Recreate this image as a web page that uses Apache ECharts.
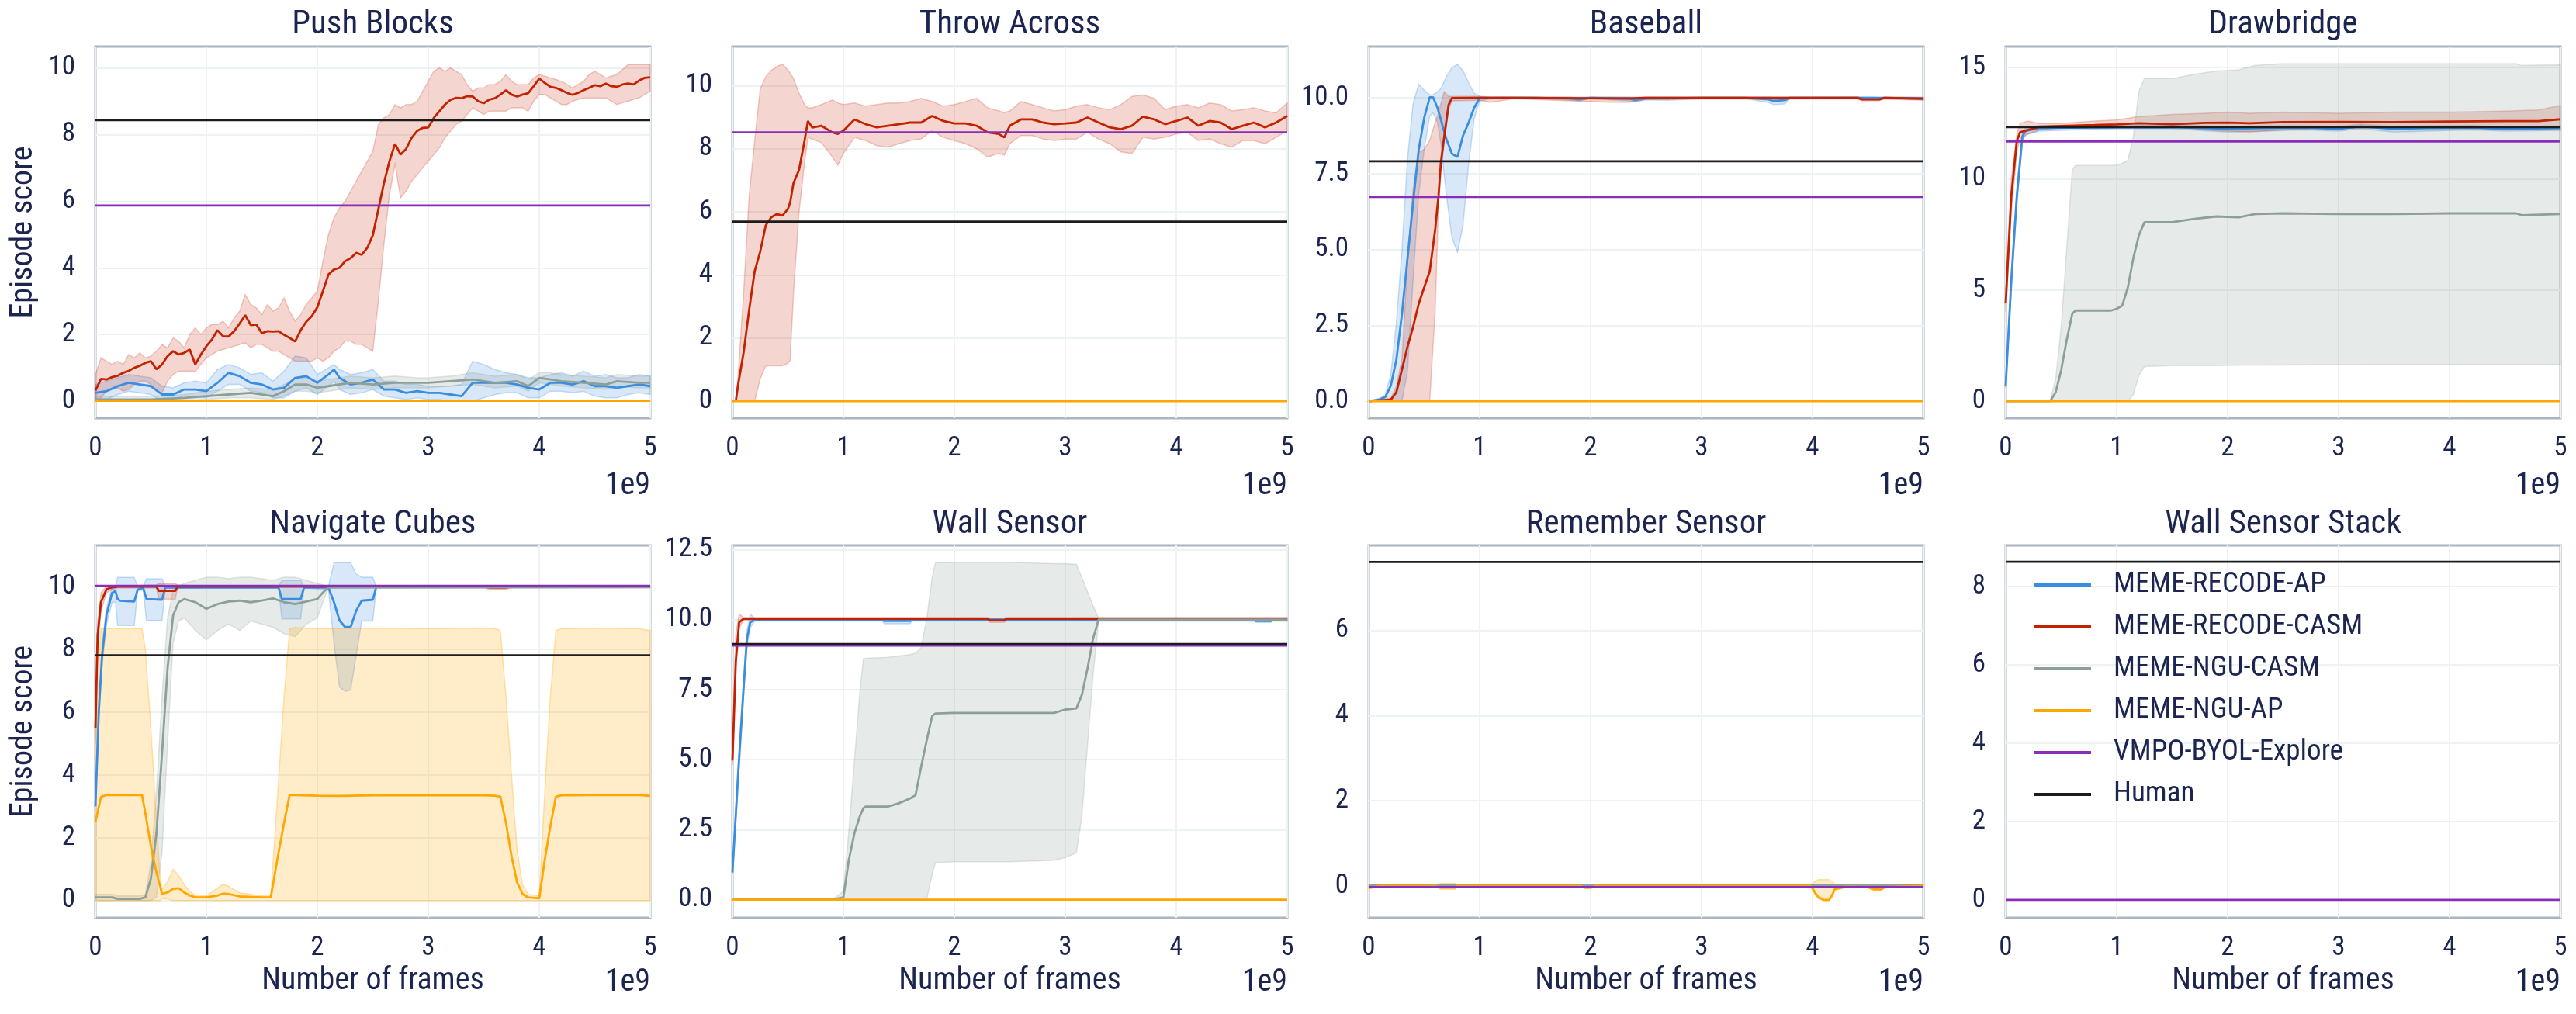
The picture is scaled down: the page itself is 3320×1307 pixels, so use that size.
<!DOCTYPE html>
<html><head><meta charset="utf-8">
<script src="https://cdn.jsdelivr.net/npm/echarts@6/dist/echarts.min.js"></script>
<style>html,body{margin:0;padding:0;background:#fff}#c{width:3320px;height:1307px}</style>
</head><body><div id="c"></div>
<script>
// ---------------- DATA ----------------
const PANEL_TITLES = ['Push Blocks','Throw Across','Baseball','Drawbridge','Navigate Cubes','Wall Sensor','Remember Sensor','Wall Sensor Stack'];
const METHOD_NAMES = ['MEME-RECODE-AP','MEME-RECODE-CASM','MEME-NGU-CASM','MEME-NGU-AP','VMPO-BYOL-Explore','Human'];
const X_TICKS = [0,1,2,3,4,5];
const Y_TICKS = [[0,2,4,6,8,10],[0,2,4,6,8,10],[0,2.5,5,7.5,10],[0,5,10,15],[0,2,4,6,8,10],[0,2.5,5,7.5,10,12.5],[0,2,4,6],[0,2,4,6,8]];
const Y_RANGES = [[-0.51,10.64],[-0.54,11.24],[-0.56,11.69],[-0.76,15.95],[-0.55,11.31],[-0.65,12.65],[-0.75,8.0],[-0.46,9.05]];
const Y_DECIMALS = [0,0,1,0,0,1,0,0];
const HUMAN = [8.43,5.69,7.91,12.33,7.81,9.13,7.61,8.63];
const VMPO = [5.87,8.52,6.73,11.68,10.02,9.07,-0.03,0.0];

// rows: [frames (1e9), mean, lower, upper]
const pushRed = [[0,0.32,0.0,0.8],[0.05,0.67,0.1,1.3],[0.1,0.65,0.3,1.2],[0.15,0.72,0.35,1.1],[0.2,0.76,0.4,1.2],[0.25,0.85,0.3,1.1],[0.3,0.91,0.35,1.4],[0.35,1.0,0.5,1.3],[0.4,1.06,0.6,1.45],[0.45,1.15,0.6,1.3],[0.5,1.2,0.5,1.35],[0.55,0.96,0.3,1.5],[0.6,1.1,0.25,1.7],[0.65,1.35,0.6,1.6],[0.7,1.5,0.8,1.9],[0.75,1.4,0.9,1.8],[0.8,1.45,0.9,1.6],[0.85,1.55,0.9,2.0],[0.9,1.1,0.9,2.2],[0.95,1.4,1.1,2.0],[1.0,1.65,1.3,2.2],[1.05,1.85,1.4,2.3],[1.1,2.13,1.5,2.3],[1.15,1.95,1.55,2.4],[1.2,1.94,1.6,2.2],[1.25,2.1,1.65,2.5],[1.3,2.33,1.7,2.7],[1.35,2.58,1.75,3.2],[1.4,2.28,1.6,2.9],[1.45,2.3,1.7,2.8],[1.5,2.04,1.7,2.6],[1.55,2.1,1.6,2.9],[1.6,2.09,1.5,2.7],[1.65,2.1,1.5,2.8],[1.7,1.99,1.4,3.1],[1.75,1.9,1.3,2.7],[1.8,1.79,1.2,2.4],[1.85,2.13,1.2,2.6],[1.9,2.38,1.2,2.9],[1.95,2.55,1.2,3.1],[2.0,2.82,1.3,3.3],[2.05,3.3,1.2,4.2],[2.1,3.8,1.3,5.0],[2.15,3.95,1.5,5.5],[2.2,4.0,1.6,5.8],[2.25,4.2,1.8,6.0],[2.3,4.29,1.8,6.3],[2.35,4.45,1.7,6.6],[2.4,4.39,1.7,6.9],[2.45,4.6,1.6,7.2],[2.5,4.98,1.5,7.5],[2.55,5.76,3.0,8.3],[2.6,6.54,4.7,8.5],[2.65,7.2,6.2,8.6],[2.7,7.72,7.1,8.9],[2.75,7.4,6.1,8.8],[2.8,7.57,6.3,8.9],[2.85,7.9,6.6,8.9],[2.9,8.11,6.8,9.0],[2.95,8.2,7.0,9.3],[3.0,8.21,7.2,9.6],[3.05,8.5,7.4,9.9],[3.1,8.7,7.6,10.0],[3.15,8.9,7.9,9.9],[3.2,9.04,8.1,10.0],[3.25,9.1,8.3,9.9],[3.3,9.09,8.4,9.8],[3.35,9.15,8.6,9.5],[3.4,9.14,8.8,9.3],[3.45,9.0,8.7,9.4],[3.5,8.94,8.6,9.4],[3.55,9.05,8.7,9.5],[3.6,9.09,8.7,9.5],[3.65,9.2,8.7,9.6],[3.7,9.33,8.7,9.8],[3.75,9.2,8.8,9.6],[3.8,9.14,8.8,9.5],[3.85,9.2,8.8,9.5],[3.9,9.24,8.7,9.5],[3.95,9.45,9.0,9.7],[4.0,9.68,9.2,9.8],[4.05,9.55,9.2,9.75],[4.1,9.43,9.1,9.7],[4.15,9.4,9.0,9.65],[4.2,9.33,8.9,9.6],[4.25,9.25,8.9,9.5],[4.3,9.19,9.0,9.4],[4.35,9.25,9.05,9.5],[4.4,9.33,9.1,9.6],[4.45,9.4,9.1,9.8],[4.5,9.48,9.1,9.9],[4.55,9.45,9.1,9.8],[4.6,9.53,9.1,9.7],[4.65,9.45,9.0,9.75],[4.7,9.43,8.9,9.8],[4.75,9.5,8.95,9.95],[4.8,9.53,9.0,10.1],[4.85,9.5,9.05,10.1],[4.9,9.62,9.1,10.1],[4.95,9.7,9.2,10.1],[5.0,9.72,9.3,10.1]];
const pushBlue = [[0,0.25,0.05,0.5],[0.1,0.3,0.05,0.6],[0.2,0.45,0.2,0.7],[0.3,0.55,0.3,0.8],[0.4,0.5,0.25,0.75],[0.5,0.45,0.2,0.7],[0.6,0.2,0.0,0.45],[0.7,0.2,0.05,0.4],[0.8,0.35,0.15,0.55],[0.9,0.35,0.15,0.6],[1.0,0.3,0.1,0.55],[1.1,0.55,0.3,0.95],[1.2,0.85,0.5,1.1],[1.3,0.75,0.5,1.0],[1.4,0.55,0.3,0.8],[1.5,0.5,0.25,0.85],[1.6,0.35,0.1,0.6],[1.7,0.4,0.1,0.9],[1.8,0.7,0.3,1.35],[1.9,0.75,0.4,1.3],[2.0,0.55,0.2,0.8],[2.1,0.8,0.45,1.0],[2.15,0.95,0.6,1.1],[2.2,0.7,0.35,0.95],[2.3,0.5,0.2,0.8],[2.4,0.55,0.25,0.85],[2.5,0.65,0.35,0.95],[2.6,0.35,0.15,0.6],[2.7,0.35,0.1,0.6],[2.8,0.25,0.05,0.5],[2.9,0.3,0.1,0.5],[3.0,0.25,0.05,0.45],[3.1,0.25,0.05,0.45],[3.2,0.2,0.0,0.45],[3.3,0.15,0.0,0.5],[3.4,0.55,0.0,1.2],[3.5,0.55,0.1,1.1],[3.6,0.55,0.2,0.95],[3.7,0.55,0.25,0.85],[3.8,0.5,0.25,0.8],[3.9,0.4,0.1,0.7],[4.0,0.35,0.1,0.7],[4.1,0.55,0.3,0.8],[4.2,0.55,0.3,0.85],[4.3,0.5,0.25,0.75],[4.4,0.6,0.3,0.9],[4.5,0.45,0.15,0.75],[4.6,0.45,0.1,0.8],[4.7,0.4,0.1,0.7],[4.8,0.45,0.2,0.7],[4.9,0.5,0.25,0.8],[5.0,0.45,0.2,0.75]];
const pushGray = [[0,0.05,0.0,0.15],[0.5,0.05,0.0,0.15],[0.8,0.1,0.0,0.2],[1.0,0.15,0.05,0.3],[1.2,0.2,0.1,0.35],[1.4,0.25,0.1,0.4],[1.6,0.15,0.05,0.35],[1.7,0.3,0.15,0.5],[1.8,0.5,0.3,0.7],[1.9,0.5,0.3,0.7],[2.0,0.4,0.25,0.6],[2.1,0.45,0.3,0.65],[2.3,0.55,0.4,0.75],[2.5,0.5,0.35,0.7],[2.7,0.55,0.4,0.75],[2.9,0.55,0.4,0.7],[3.0,0.55,0.4,0.7],[3.2,0.6,0.45,0.75],[3.4,0.65,0.5,0.85],[3.6,0.55,0.4,0.75],[3.8,0.6,0.45,0.8],[3.9,0.45,0.3,0.65],[4.0,0.7,0.55,0.85],[4.1,0.65,0.5,0.85],[4.2,0.6,0.45,0.8],[4.4,0.55,0.4,0.75],[4.6,0.5,0.35,0.7],[4.7,0.6,0.45,0.8],[4.9,0.55,0.4,0.75],[5.0,0.55,0.4,0.75]];
const pushOrange = [[0,0.01,0.0,0.03],[5,0.01,0.0,0.03]];

const throwRed = [[0.03,0,0,0],[0.05,0.5,0,0.8],[0.1,1.53,0,3.4],[0.15,2.88,0,6.5],[0.2,4.12,0,8.26],[0.25,4.74,0.7,9.9],[0.3,5.57,1.12,10.28],[0.35,5.83,1.12,10.49],[0.4,5.93,1.12,10.6],[0.45,5.88,1.12,10.69],[0.5,6.09,1.2,10.49],[0.52,6.3,1.3,10.4],[0.55,6.91,3.4,10.23],[0.6,7.33,5.98,9.76],[0.65,8.26,7.54,9.4],[0.68,8.88,8.36,9.3],[0.72,8.67,8.3,9.3],[0.8,8.73,8.2,9.4],[0.9,8.52,7.74,9.55],[0.95,8.47,7.48,9.45],[1.0,8.57,7.85,9.4],[1.1,8.93,8.36,9.45],[1.2,8.78,8.26,9.35],[1.3,8.68,8.1,9.4],[1.4,8.73,8.05,9.45],[1.5,8.78,8.16,9.45],[1.6,8.83,8.26,9.5],[1.7,8.83,8.31,9.6],[1.8,9.04,8.57,9.5],[1.9,8.88,8.36,9.35],[2.0,8.8,8.26,9.4],[2.1,8.8,8.16,9.5],[2.2,8.73,8.0,9.6],[2.3,8.52,7.74,9.3],[2.4,8.47,7.85,9.2],[2.45,8.36,7.8,9.15],[2.5,8.73,8.16,9.2],[2.6,8.93,8.42,9.5],[2.7,8.93,8.42,9.4],[2.8,8.83,8.31,9.3],[2.9,8.78,8.26,9.2],[3.0,8.8,8.31,9.24],[3.1,8.83,8.31,9.35],[3.2,8.99,8.52,9.4],[3.3,8.83,8.31,9.3],[3.4,8.68,8.16,9.24],[3.5,8.62,7.9,9.4],[3.6,8.73,7.85,9.66],[3.7,9.02,8.36,9.71],[3.8,8.93,8.31,9.6],[3.9,8.78,8.36,9.24],[4.0,8.88,8.47,9.35],[4.1,8.99,8.52,9.4],[4.2,8.73,8.26,9.3],[4.3,8.88,8.31,9.45],[4.4,8.83,8.16,9.4],[4.5,8.62,8.05,9.2],[4.6,8.73,8.26,9.24],[4.7,8.83,8.26,9.3],[4.8,8.68,8.16,9.2],[4.9,8.83,8.36,9.14],[5.0,9.04,8.57,9.45]];
const throwOrange = [[0,0.0,0.0,0.0],[5,0.0,0.0,0.0]];

const baseBlue = [[0,0,0,0],[0.1,0.06,0,0.1],[0.15,0.14,0,0.2],[0.2,0.52,0,0.9],[0.25,1.38,0,2.6],[0.3,2.88,0,5.0],[0.35,4.71,1.0,8.0],[0.4,6.54,4.0,9.8],[0.45,8.27,6.8,10.45],[0.5,9.34,8.3,10.25],[0.55,10.02,9.4,10.1],[0.58,10.02,9.5,10.1],[0.62,9.67,9.2,10.2],[0.65,9.29,8.5,10.3],[0.7,8.64,6.8,10.7],[0.75,8.16,5.4,11.0],[0.8,8.05,4.9,11.1],[0.85,8.75,5.8,10.9],[0.9,9.18,7.8,10.5],[0.95,9.67,9.3,10.15],[1.0,9.99,9.9,10.05],[1.1,10.0,9.97,10.02],[1.5,10.0,9.97,10.03],[1.8,9.98,9.93,10.02],[1.9,9.95,9.9,10.0],[2.0,10.0,9.97,10.03],[2.35,9.97,9.9,10.02],[2.4,9.93,9.86,10.0],[2.5,9.98,9.93,10.02],[2.7,9.98,9.92,10.02],[3.0,10.0,9.97,10.02],[3.4,10.0,9.97,10.02],[3.6,9.95,9.85,10.02],[3.65,9.9,9.78,10.0],[3.75,9.92,9.8,10.0],[3.8,10.0,9.97,10.02],[4.5,10.0,9.97,10.03],[5.0,9.98,9.95,10.02]];
const baseRed = [[0,0,0,0],[0.2,0.05,0,0.1],[0.25,0.3,0,0.5],[0.3,1.05,0,1.4],[0.35,1.8,0,4.6],[0.4,2.45,0,7.0],[0.45,3.2,0,8.2],[0.5,3.75,0,8.3],[0.55,4.28,0,8.6],[0.6,5.68,3.0,9.2],[0.63,6.8,6.5,9.5],[0.65,7.84,7.5,9.8],[0.68,8.7,8.5,10.2],[0.72,9.77,9.6,10.05],[0.75,9.99,9.9,10.05],[1.0,10.0,9.92,10.05],[1.1,10.0,9.85,10.02],[1.3,10.0,9.97,10.03],[2.2,9.98,9.85,10.02],[2.35,9.98,9.85,10.02],[2.5,10.0,9.95,10.03],[3.0,10.0,9.96,10.03],[4.0,10.0,9.96,10.03],[4.4,10.0,9.96,10.03],[4.45,9.95,9.9,10.0],[4.6,9.95,9.9,10.0],[4.65,10.0,9.96,10.03],[5.0,9.97,9.92,10.01]];
const baseOrange = [[0,0.0,0.0,0.0],[5,0.0,0.0,0.0]];

const drawRed = [[0,4.4,4.0,5.0],[0.05,9.2,8.5,10.0],[0.1,11.7,11.2,12.0],[0.13,12.1,11.8,12.5],[0.2,12.2,12.0,12.6],[0.3,12.34,12.2,12.5],[0.5,12.38,12.3,12.5],[0.8,12.42,12.3,12.6],[1.0,12.45,12.3,12.65],[1.2,12.5,12.35,12.8],[1.5,12.46,12.35,12.9],[1.8,12.52,12.2,12.95],[2.0,12.53,12.15,13.0],[2.2,12.5,12.1,12.95],[2.5,12.55,12.2,13.0],[3.0,12.56,12.3,12.95],[3.5,12.55,12.3,13.0],[4.0,12.58,12.25,13.0],[4.5,12.6,12.25,13.05],[4.8,12.6,12.2,13.1],[5.0,12.68,12.2,13.3]];
const drawBlue = [[0,0.7,0.6,0.8],[0.05,5.4,5.0,5.8],[0.1,9.2,8.8,9.6],[0.15,11.9,11.7,12.1],[0.18,12.16,12.0,12.3],[0.3,12.28,12.15,12.4],[0.6,12.3,12.2,12.4],[1.0,12.32,12.25,12.4],[1.5,12.33,12.25,12.42],[2.0,12.25,12.1,12.35],[2.3,12.28,12.15,12.38],[2.7,12.3,12.2,12.38],[3.0,12.25,12.15,12.35],[3.2,12.35,12.25,12.45],[3.5,12.25,12.1,12.35],[3.8,12.28,12.15,12.38],[4.2,12.3,12.2,12.4],[4.5,12.25,12.15,12.35],[5.0,12.28,12.18,12.38]];
const drawGray = [[0,0,0,0],[0.4,0,0,0],[0.45,0.4,0,1.0],[0.5,1.4,0,3.35],[0.55,2.76,0,6.88],[0.6,3.94,0,10.4],[0.63,4.08,0,10.6],[0.8,4.08,0,10.6],[0.95,4.08,0,10.6],[1.0,4.16,0,10.62],[1.05,4.3,0,10.7],[1.1,5.1,0,10.84],[1.15,6.43,0.3,11.87],[1.2,7.46,1.15,13.93],[1.25,8.05,1.56,14.51],[1.5,8.05,1.6,14.51],[1.7,8.2,1.6,14.7],[1.9,8.31,1.6,14.85],[2.1,8.27,1.62,14.9],[2.25,8.42,1.62,15.1],[2.5,8.45,1.63,15.18],[3.0,8.42,1.64,15.18],[3.5,8.42,1.65,15.18],[4.0,8.45,1.65,15.18],[4.6,8.45,1.65,15.18],[4.65,8.37,1.65,15.1],[5.0,8.42,1.65,15.13]];
const drawOrange = [[0,0.0,0.0,0.0],[5,0.0,0.0,0.0]];

const navRed = [[0,5.5,5.0,6.0],[0.02,8.45,8.0,8.9],[0.05,9.5,9.2,9.8],[0.1,9.92,9.8,10.02],[0.15,9.97,9.9,10.02],[0.2,10.0,9.95,10.02],[0.55,10.0,9.95,10.05],[0.57,9.86,9.6,10.1],[0.72,9.86,9.6,10.1],[0.74,10.0,9.95,10.05],[0.95,10.0,9.95,10.02],[1.0,10.0,10.0,10.0],[3.5,10.0,9.98,10.02],[3.55,9.97,9.9,10.02],[3.7,9.97,9.9,10.02],[3.75,10.0,9.98,10.02],[5.0,10.0,9.98,10.02]];
const navBlue = [[0,3.0,3.0,3.0],[0.03,6.0,5.8,6.3],[0.06,7.8,7.5,8.2],[0.1,9.1,8.8,9.3],[0.15,9.8,9.5,10.0],[0.18,9.86,9.5,10.0],[0.2,9.6,8.76,10.29],[0.22,9.55,8.76,10.29],[0.35,9.52,8.76,10.29],[0.38,9.9,9.85,10.0],[0.43,9.96,9.9,10.0],[0.46,9.6,8.92,10.25],[0.6,9.58,8.92,10.25],[0.63,9.97,9.95,10.0],[1.65,9.97,9.95,10.0],[1.68,9.6,8.97,10.2],[1.85,9.6,8.97,10.2],[1.88,9.97,9.95,10.0],[2.1,9.97,9.9,10.0],[2.15,9.5,8.2,10.76],[2.2,8.92,6.8,10.76],[2.25,8.71,6.66,10.76],[2.3,8.71,6.7,10.76],[2.35,9.23,7.8,10.4],[2.4,9.55,8.9,10.3],[2.5,9.58,8.9,10.3],[2.53,9.97,9.95,10.0]];
const navGray = [[0,0.1,0.0,0.2],[0.15,0.1,0.0,0.2],[0.2,0.05,0.0,0.15],[0.4,0.05,0.0,0.15],[0.45,0.1,0.0,0.2],[0.5,0.7,0.0,1.2],[0.55,2.15,0.1,3.5],[0.6,4.67,1.5,6.5],[0.65,7.4,5.0,9.0],[0.7,9.08,8.2,9.9],[0.75,9.5,8.9,10.0],[0.8,9.6,9.0,10.1],[0.9,9.5,8.6,10.2],[1.0,9.29,8.3,10.3],[1.1,9.44,8.6,10.3],[1.2,9.52,8.8,10.25],[1.3,9.55,8.6,10.3],[1.4,9.5,8.9,10.3],[1.5,9.55,8.8,10.25],[1.6,9.62,8.7,10.2],[1.7,9.5,8.5,10.3],[1.8,9.44,8.4,10.3],[1.9,9.52,8.8,10.2],[2.0,9.6,9.0,10.1],[2.05,9.81,9.5,10.05],[2.1,9.97,9.95,10.0],[5.0,9.98,9.96,10.0]];
const navOrange = [[0,2.5,0,5.0],[0.05,3.3,0,8.66],[0.1,3.36,0,8.66],[0.42,3.36,0,8.66],[0.45,2.78,0,8.0],[0.5,1.73,0,5.5],[0.55,0.89,0,2.5],[0.58,0.5,0,0.9],[0.6,0.21,0.05,0.35],[0.65,0.26,0.05,0.6],[0.7,0.37,0.0,1.0],[0.75,0.39,0.0,0.8],[0.8,0.26,0.0,0.5],[0.85,0.16,0.0,0.3],[0.9,0.1,0.0,0.15],[1.0,0.1,0.0,0.15],[1.1,0.16,0.0,0.4],[1.15,0.22,0.0,0.52],[1.2,0.21,0.0,0.45],[1.3,0.13,0.0,0.25],[1.5,0.1,0.0,0.15],[1.58,0.1,0.0,0.15],[1.65,1.52,0,3.8],[1.7,2.47,0,6.5],[1.75,3.36,0,8.66],[1.8,3.36,0,8.7],[2.0,3.34,0,8.66],[2.2,3.33,0,8.66],[2.5,3.35,0,8.68],[3.0,3.35,0,8.66],[3.5,3.35,0,8.68],[3.6,3.34,0,8.66],[3.65,3.31,0,8.6],[3.7,2.47,0,6.5],[3.75,1.42,0,4.0],[3.8,0.58,0,1.6],[3.85,0.21,0,0.5],[3.9,0.1,0,0.2],[4.0,0.07,0,0.15],[4.05,1.31,0,3.5],[4.1,2.36,0,6.5],[4.15,3.31,0,8.6],[4.2,3.35,0,8.66],[4.5,3.36,0,8.68],[4.9,3.36,0,8.66],[5.0,3.33,0,8.6]];

const wallRed = [[0,4.97,4.8,5.2],[0.03,8.5,8.2,9.5],[0.06,9.9,9.7,10.2],[0.1,10.03,9.98,10.08],[2.3,10.03,9.98,10.08],[2.32,9.97,9.9,10.05],[2.45,9.97,9.9,10.05],[2.47,10.03,9.98,10.08],[5.0,10.03,9.98,10.08]];
const wallBlue = [[0,0.97,0.9,1.1],[0.05,4.4,4.0,4.8],[0.1,7.55,7.2,7.9],[0.13,9.3,9.0,9.6],[0.16,9.9,9.7,10.2],[0.2,10.0,9.95,10.05],[1.35,10.0,9.95,10.05],[1.37,9.95,9.85,10.02],[1.6,9.95,9.85,10.02],[1.62,10.0,9.95,10.05],[4.7,10.0,9.95,10.05],[4.72,9.95,9.9,10.02],[4.85,9.95,9.9,10.02],[4.87,10.0,9.95,10.05],[5.0,10.0,9.95,10.05]];
const wallGray = [[0,0,0,0],[0.9,0,0,0],[1.0,0.08,0,0.3],[1.05,1.44,0,2.5],[1.1,2.38,0,5.0],[1.15,3.0,0,7.5],[1.18,3.26,0,8.6],[1.2,3.32,0,8.62],[1.4,3.32,0,8.65],[1.5,3.44,0,8.7],[1.6,3.61,0,8.75],[1.65,3.73,0,8.8],[1.7,4.73,0,9.0],[1.75,5.67,0,10.0],[1.8,6.56,0.9,11.5],[1.83,6.65,1.32,12.03],[2.0,6.67,1.35,12.05],[2.5,6.67,1.35,12.05],[2.9,6.67,1.4,12.0],[3.0,6.79,1.5,12.0],[3.1,6.83,1.67,11.97],[3.15,7.32,3.0,11.5],[3.2,8.26,5.5,11.0],[3.25,9.32,8.0,10.5],[3.3,10.0,9.95,10.05],[5.0,10.0,9.95,10.05]];
const wallOrange = [[0,0.0,0.0,0.0],[5,0.0,0.0,0.0]];

const remGray = [[0,0.02,0.0,0.04],[5,0.02,0.0,0.04]];
const remOrange = [[0,-0.05,-0.07,0.0],[0.1,0.0,-0.02,0.02],[0.6,0.0,-0.02,0.03],[0.65,-0.04,-0.08,0.06],[0.78,-0.04,-0.08,0.06],[0.8,0.0,-0.02,0.02],[1.9,0.0,-0.02,0.02],[1.95,-0.04,-0.06,0.02],[2.0,-0.04,-0.06,0.02],[2.05,0.0,-0.02,0.02],[3.98,0.0,-0.02,0.02],[4.0,-0.05,-0.1,0.05],[4.02,-0.15,-0.2,0.1],[4.05,-0.25,-0.3,0.15],[4.1,-0.33,-0.35,0.15],[4.15,-0.33,-0.35,0.15],[4.18,-0.2,-0.25,0.1],[4.2,-0.08,-0.1,0.03],[4.25,-0.05,-0.07,0.02],[4.3,-0.02,-0.04,0.02],[4.5,-0.03,-0.05,0.03],[4.55,-0.08,-0.1,0.02],[4.62,-0.08,-0.1,0.02],[4.65,-0.03,-0.05,0.02],[5.0,0.0,-0.02,0.02]];

// which curves belong to which panel: [AP(blue), RECODE-CASM(red), NGU-CASM(gray), NGU-AP(orange)]
const PANEL_CURVES = [
  [pushBlue, pushRed, pushGray, pushOrange],
  [null, throwRed, null, throwOrange],
  [baseBlue, baseRed, null, baseOrange],
  [drawBlue, drawRed, drawGray, drawOrange],
  [navBlue, navRed, navGray, navOrange],
  [wallBlue, wallRed, wallGray, wallOrange],
  [null, null, remGray, remOrange],
  [null, null, null, null]
];

// ---------------- STYLE / LAYOUT ----------------
const NAVY = '#1b2550';
const FONT = '"Roboto Condensed", "Liberation Sans Narrow", "DejaVu Sans Condensed", Roboto, sans-serif';
const COLORS = ['#3a8ddf', '#c22200', '#8e9e99', '#ffa600', '#8a2db8', '#1c1c1c'];
const BAND_FILL = ['rgba(58,141,223,0.2)', 'rgba(194,34,0,0.19)', 'rgba(142,158,153,0.22)', 'rgba(255,166,0,0.21)'];
const BAND_EDGE = ['rgba(58,141,223,0.28)', 'rgba(194,34,0,0.22)', 'rgba(142,158,153,0.25)', 'rgba(255,166,0,0.3)'];
const COL_LEFT = [123, 944, 1764, 2585];
const ROW_TOP = [60, 703];
const PW = 715, PH = [479, 480];
const FS_TICK = 35, FS_TITLE = 43, FS_NAME = 40, FS_LEG = 37;

const grids = [], xAxes = [], yAxes = [], series = [], graphics = [];
for (let p = 0; p < 8; p++) {
  const r = Math.floor(p / 4), c = p % 4;
  grids.push({left: COL_LEFT[c], top: ROW_TOP[r], width: PW, height: PH[r], show: true,
    borderColor: '#abb5c2', borderWidth: 3, backgroundColor: 'transparent', containLabel: false});
  xAxes.push({gridIndex: p, type: 'value', min: 0, max: 5, interval: 1,
    axisLine: {show: false}, axisTick: {show: false},
    splitLine: {show: true, lineStyle: {color: '#edf2f2', width: 2}},
    axisLabel: {fontSize: FS_TICK, color: NAVY, margin: 22, fontFamily: FONT},
    name: r === 1 ? 'Number of frames' : '', nameLocation: 'middle', nameGap: 62,
    nameTextStyle: {fontSize: FS_NAME, color: NAVY, fontFamily: FONT}});
  const dec = Y_DECIMALS[p];
  yAxes.push({gridIndex: p, type: 'value', min: Y_RANGES[p][0], max: Y_RANGES[p][1],
    axisLine: {show: false},
    axisTick: {show: false, customValues: Y_TICKS[p]},
    splitLine: {show: true, lineStyle: {color: '#edf2f2', width: 2}},
    axisLabel: {customValues: Y_TICKS[p], fontSize: FS_TICK, color: NAVY, margin: 26, fontFamily: FONT,
      formatter: v => Number(v).toFixed(dec)},
    name: c === 0 ? 'Episode score' : '', nameLocation: 'middle', nameGap: 72,
    nameTextStyle: {fontSize: FS_NAME, color: NAVY, fontFamily: FONT}});

  const curves = PANEL_CURVES[p];
  curves.forEach((rows, m) => {
    if (!rows) return;
    series.push({type: 'custom', xAxisIndex: p, yAxisIndex: p, z: 1, silent: true, animation: false,
      data: rows.map(d => [d[0], d[2], d[3]]), encode: {x: 0, y: [1, 2]},
      renderItem: function (params, api) {
        if (params.dataIndex !== 0) return null;
        const up = rows.map(d => api.coord([d[0], d[3]]));
        const dn = rows.map(d => api.coord([d[0], d[2]])).reverse();
        return {type: 'polygon', shape: {points: up.concat(dn)},
          style: {fill: BAND_FILL[m], stroke: BAND_EDGE[m], lineWidth: 1.5}};
      }});
  });
  curves.forEach((rows, m) => {
    if (!rows) return;
    series.push({type: 'line', name: METHOD_NAMES[m], xAxisIndex: p, yAxisIndex: p, z: 3,
      data: rows.map(d => [d[0], d[1]]), showSymbol: false, symbol: 'none', silent: true,
      lineStyle: {color: COLORS[m], width: 2.8}, itemStyle: {color: COLORS[m]}});
  });
  series.push({type: 'line', name: METHOD_NAMES[4], xAxisIndex: p, yAxisIndex: p, z: 4,
    data: [[0, VMPO[p]], [5, VMPO[p]]], showSymbol: false, symbol: 'none', silent: true,
    lineStyle: {color: COLORS[4], width: 2.8}, itemStyle: {color: COLORS[4]}});
  series.push({type: 'line', name: METHOD_NAMES[5], xAxisIndex: p, yAxisIndex: p, z: 4,
    data: [[0, HUMAN[p]], [5, HUMAN[p]]], showSymbol: false, symbol: 'none', silent: true,
    lineStyle: {color: COLORS[5], width: 2.8}, itemStyle: {color: COLORS[5]}});

  graphics.push({type: 'text', x: COL_LEFT[c] + PW / 2, y: r === 0 ? 32 : 676,
    style: {text: PANEL_TITLES[p], fill: NAVY, font: FS_TITLE + 'px ' + FONT, align: 'center', verticalAlign: 'middle'}});
  graphics.push({type: 'text', x: COL_LEFT[c] + PW, y: r === 0 ? 627 : 1267,
    style: {text: '1e9', fill: NAVY, font: FS_NAME + 'px ' + FONT, align: 'right', verticalAlign: 'middle'}});
}

const chart = echarts.init(document.getElementById('c'), null, {renderer: 'canvas'});
chart.setOption({
  backgroundColor: '#ffffff',
  animation: false,
  textStyle: {fontFamily: FONT},
  grid: grids, xAxis: xAxes, yAxis: yAxes, series: series,
  graphic: graphics,
  legend: {data: METHOD_NAMES, orient: 'vertical', left: 2617, top: 728, itemWidth: 73, itemHeight: 4,
    itemGap: 12, icon: 'rect', selectedMode: false,
    textStyle: {fontSize: FS_LEG, color: NAVY, fontFamily: FONT, padding: [0, 0, 0, 24], lineHeight: 42}}
});
</script></body></html>
